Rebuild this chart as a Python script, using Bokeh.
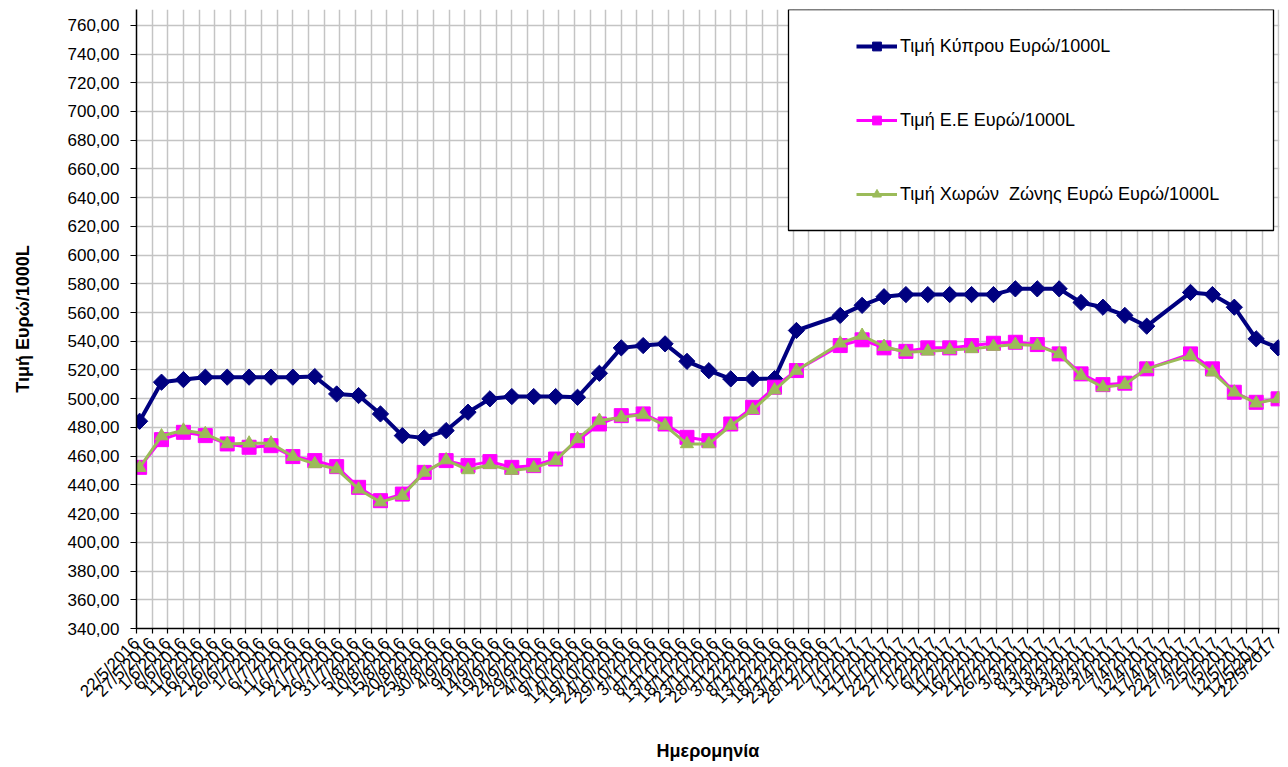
import math
import pandas as pd
from bokeh.plotting import figure
from bokeh.models import (FixedTicker, Range1d, Legend, LegendItem, BoxAnnotation,
                          CustomJSTickFormatter)
from bokeh.embed import file_html
from bokeh.resources import INLINE

# ---------------- data ----------------
dates = [
    "2016-05-23", "2016-05-30", "2016-06-06", "2016-06-13", "2016-06-20", "2016-06-27",
    "2016-07-04", "2016-07-11", "2016-07-18", "2016-07-25", "2016-08-01", "2016-08-08",
    "2016-08-15", "2016-08-22", "2016-08-29", "2016-09-05", "2016-09-12", "2016-09-19",
    "2016-09-26", "2016-10-03", "2016-10-10", "2016-10-17", "2016-10-24", "2016-10-31",
    "2016-11-07", "2016-11-14", "2016-11-21", "2016-11-28", "2016-12-05", "2016-12-12",
    "2016-12-19",
    "2017-01-02", "2017-01-09", "2017-01-16", "2017-01-23", "2017-01-30", "2017-02-06",
    "2017-02-13", "2017-02-20", "2017-02-27", "2017-03-06", "2017-03-13", "2017-03-20",
    "2017-03-27", "2017-04-03", "2017-04-10",
    "2017-04-24", "2017-05-01", "2017-05-08", "2017-05-15", "2017-05-22",
]

cyprus = [
    484.3, 511.5, 513.3, 515.0, 515.0, 515.0, 515.0, 515.0, 515.4, 503.3, 502.2, 489.4,
    474.3, 472.7, 477.8, 490.6, 499.9, 501.5, 501.5, 501.5, 501.0, 517.7, 535.4, 537.0,
    538.2, 526.0, 519.5, 513.8, 513.8, 514.0, 547.5,
    558.0, 565.0, 571.0, 572.5, 572.5, 572.5, 572.5, 572.5, 576.5, 576.5, 576.5, 567.0,
    563.7, 558.0, 550.5,
    574.0, 572.5, 563.7, 541.7, 535.4,
]

eu = [
    452.2, 471.5, 476.6, 474.3, 468.5, 466.2, 467.3, 459.7, 456.9, 452.7, 438.3, 429.0,
    433.6, 448.7, 456.9, 453.4, 456.2, 452.2, 453.4, 458.0, 470.8, 482.4, 488.2, 489.4,
    482.4, 473.1, 470.8, 482.4, 494.0, 508.0, 519.6,
    537.0, 541.0, 535.4, 533.0, 535.4, 535.4, 537.0, 538.6, 539.3, 537.7, 531.2, 517.3,
    509.8, 510.8, 520.8,
    531.2, 520.8, 504.5, 497.5, 499.9,
]

eurozone = [
    452.0, 474.0, 478.0, 475.6, 468.5, 469.0, 469.0, 459.7, 454.6, 451.0, 437.0, 428.0,
    432.5, 448.7, 457.3, 450.4, 454.0, 450.0, 451.8, 456.9, 472.0, 484.8, 487.0, 489.0,
    481.3, 468.5, 468.5, 481.3, 492.2, 506.0, 519.6,
    538.6, 544.0, 536.3, 532.4, 533.0, 534.0, 534.7, 536.3, 537.7, 537.0, 531.2, 516.1,
    508.0, 509.8, 520.8,
    530.0, 518.5, 504.5, 496.9, 499.9,
]

series_names = [
    "Τιμή Κύπρου Ευρώ/1000L",
    "Τιμή Ε.Ε Ευρώ/1000L",
    "Τιμή Χωρών  Ζώνης Ευρώ Ευρώ/1000L",
]

axis_start = "2016-05-22"
axis_end = "2017-05-22"
tick_step_days = 5
y_min, y_max, y_step = 340, 760, 20

x_title = "Ημερομηνία"
y_title = "Τιμή Ευρώ/1000L"

# ---------------- derived ----------------
origin = pd.Timestamp(axis_start)
xs = [(pd.Timestamp(d) - origin).days for d in dates]
tick_dates = pd.date_range(axis_start, axis_end, freq=f"{tick_step_days}D")
tick_x = [int((d - origin).days) for d in tick_dates]
tick_labels = [f"{d.day}/{d.month}/{d.year}" for d in tick_dates]

FONT = "Liberation Sans"
W, H = 1280, 766
BL, BR, BT, BB = 136, 1, 9, 138
frame_w = W - BL - BR
frame_h = H - BT - BB

x_end = tick_x[-1] + 0.45
y_end = 771
x_range = Range1d(0, x_end)
y_range = Range1d(y_min, y_end)

p = figure(width=W, height=H, output_backend="svg", toolbar_location=None,
           x_range=x_range, y_range=y_range,
           min_border_left=BL, min_border_right=BR, min_border_top=BT, min_border_bottom=BB)
p.outline_line_color = None
p.background_fill_color = "white"

# grid
p.xgrid.grid_line_color = "#c4c4c4"
p.ygrid.grid_line_color = "#c4c4c4"
p.xgrid.grid_line_width = 1.5
p.ygrid.grid_line_width = 1.5

# x axis
p.xaxis.ticker = FixedTicker(ticks=tick_x)
p.xaxis.major_label_overrides = {t: l for t, l in zip(tick_x, tick_labels)}
p.xaxis.major_label_orientation = math.pi / 4
p.xaxis.major_label_text_font = FONT
p.xaxis.major_label_text_font_size = "17px"
p.xaxis.major_label_text_color = "black"
p.xaxis.major_label_standoff = 7
p.xaxis.major_tick_out = 5
p.xaxis.major_tick_in = 0
p.xaxis.minor_tick_line_color = None
p.xaxis.axis_line_color = "black"
p.xaxis.axis_line_width = 1.5
p.xaxis.major_tick_line_color = "black"
p.xaxis.major_tick_line_width = 1.2
p.xaxis.axis_label = x_title
p.xaxis.axis_label_text_font = FONT
p.xaxis.axis_label_text_font_style = "bold"
p.xaxis.axis_label_text_font_size = "18px"
p.xaxis.axis_label_text_color = "black"
p.xaxis.axis_label_standoff = 24

# y axis
p.yaxis.ticker = FixedTicker(ticks=list(range(y_min, y_max + 1, y_step)))
p.yaxis.formatter = CustomJSTickFormatter(code="return tick.toFixed(2).replace('.', ',');")
p.yaxis.major_label_text_font = FONT
p.yaxis.major_label_text_font_size = "17px"
p.yaxis.major_label_text_color = "black"
p.yaxis.major_label_standoff = 11
p.yaxis.major_tick_out = 6
p.yaxis.major_tick_in = 0
p.yaxis.minor_tick_line_color = None
p.yaxis.axis_line_color = "black"
p.yaxis.axis_line_width = 1.5
p.yaxis.major_tick_line_color = "black"
p.yaxis.major_tick_line_width = 1.2
p.yaxis.axis_label = y_title
p.yaxis.axis_label_text_font = FONT
p.yaxis.axis_label_text_font_style = "bold"
p.yaxis.axis_label_text_font_size = "18px"
p.yaxis.axis_label_text_color = "black"
p.yaxis.axis_label_standoff = 32

# series
l1 = p.line(xs, cyprus, line_color="#000080", line_width=4, line_join="round")
s1 = p.scatter(xs, cyprus, marker="square", angle=math.pi / 4, size=11.5,
               fill_color="#000080", line_color="#000080")
l2 = p.line(xs, eu, line_color="#FF00FF", line_width=3, line_join="round")
s2 = p.scatter(xs, eu, marker="square", size=14, fill_color="#FF00FF", line_color="#FF00FF")
l3 = p.line(xs, eurozone, line_color="#9BBB59", line_width=3, line_join="round")
s3 = p.scatter(xs, eurozone, marker="triangle", size=13, fill_color="#9BBB59",
               line_color="#9BBB59")

# legend box (white, black border), positioned in screen px converted to data units
px_per_day = frame_w / x_end
px_per_unit = frame_h / (y_end - y_min)
box_left_px, box_right_px, box_bottom_px = 788 - BL, 1273 - BL, 230 - BT
box = BoxAnnotation(left=box_left_px / px_per_day, right=box_right_px / px_per_day,
                    top=y_end, bottom=y_end - box_bottom_px / px_per_unit,
                    fill_color="white", fill_alpha=1.0,
                    line_color="black", line_alpha=1.0, line_width=1.3)
p.add_layout(box)

legend = Legend(items=[LegendItem(label=series_names[0], renderers=[l1, s1]),
                       LegendItem(label=series_names[1], renderers=[l2, s2]),
                       LegendItem(label=series_names[2], renderers=[l3, s3])],
                location=(856 - BL, frame_h - (205 - BT)),
                padding=0, margin=0, spacing=52, glyph_width=41, glyph_height=22,
                label_height=22, label_standoff=3,
                border_line_color=None, background_fill_alpha=0.0,
                label_text_font=FONT, label_text_font_size="18px", label_text_color="black")
p.add_layout(legend)

open("out.html", "w").write(file_html(p, INLINE))
